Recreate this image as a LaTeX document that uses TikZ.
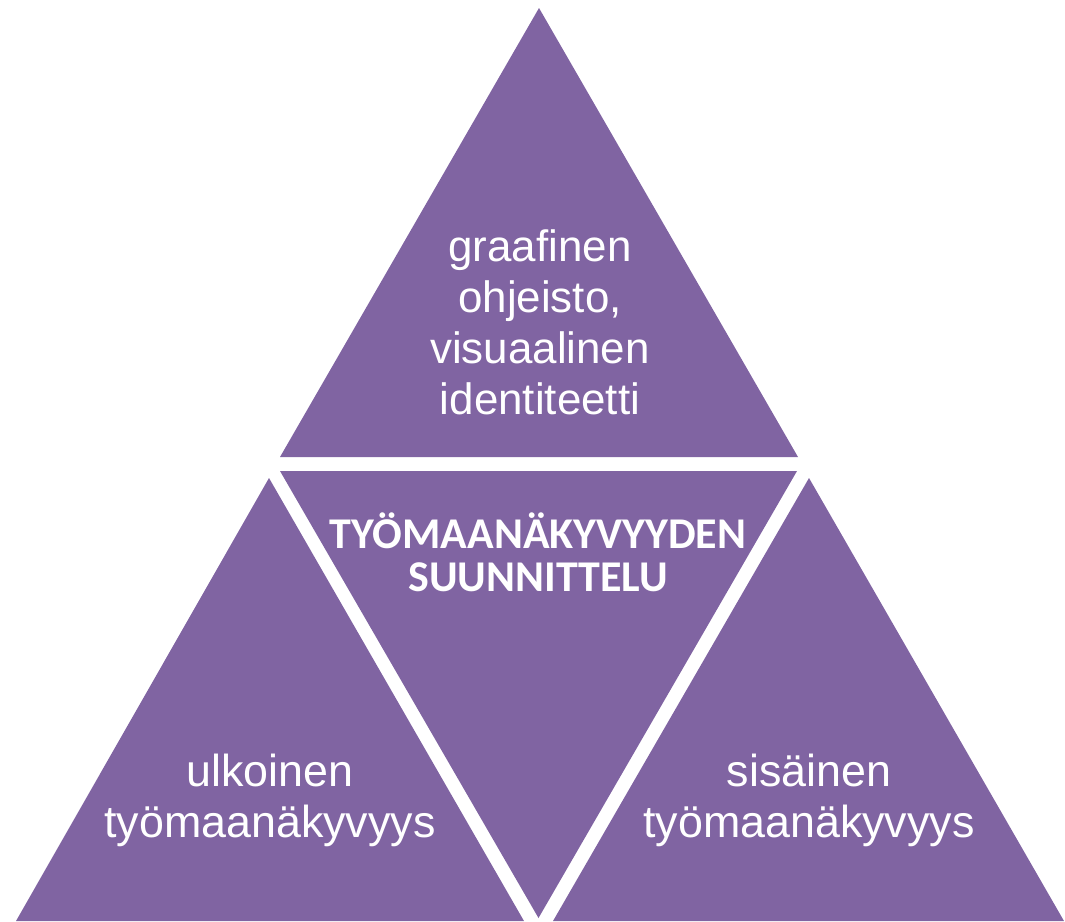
\documentclass[tikz,border=0pt]{standalone}
\usepackage{fontspec}
\setmainfont{Liberation Sans}
\newfontfamily\calibrifont{Carlito}
\definecolor{tripurple}{RGB}{128,100,162}
\tikzset{
  tri/.style={fill=tripurple},
  lbl/.style={text=white, align=center, inner sep=0pt, font=\fontsize{25}{29}\selectfont},
  titlelbl/.style={text=white, align=center, inner sep=0pt, font=\calibrifont\bfseries\fontsize{25}{24.5}\selectfont}
}
\begin{document}
\begin{tikzpicture}[x=0.02cm, y=-0.02cm]
  \useasboundingbox (0,0) rectangle (1065,921);
  % four triangles
  \fill[tri] (539,8) -- (280,457) -- (798,457) -- cycle;
  \fill[tri] (280,471) -- (797,471) -- (538.5,918) -- cycle;
  \fill[tri] (269,478) -- (524,921) -- (16,921) -- cycle;
  \fill[tri] (809,478) -- (1064,921) -- (553,921) -- cycle;
  % labels
  \node[lbl] (graafinen) at (540,322) {graafinen\\ohjeisto,\\visuaalinen\\identiteetti};
  \node[titlelbl] (suunnittelu) at (538,552) {TYÖMAANÄKYVYYDEN\\SUUNNITTELU};
  \node[lbl, font=\fontsize{25.5}{29}\selectfont] (ulkoinen) at (270,800) {ulkoinen\\työmaanäkyvyys};
  \node[lbl, font=\fontsize{25.5}{29}\selectfont] (sisainen) at (809,800) {sisäinen\\työmaanäkyvyys};
\end{tikzpicture}
\end{document}
